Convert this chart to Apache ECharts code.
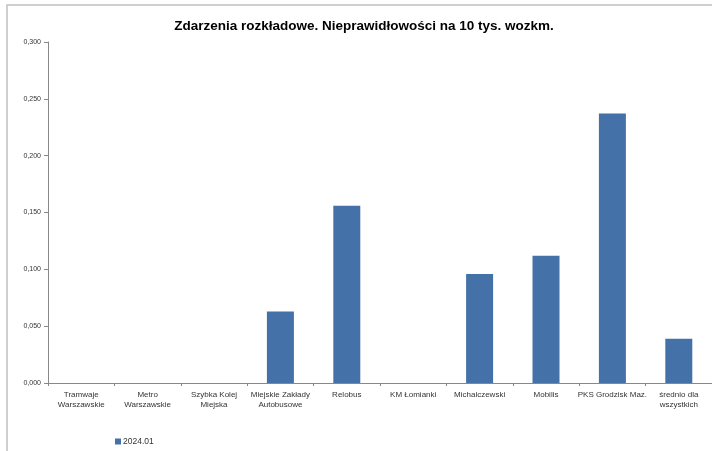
<!DOCTYPE html>
<html>
<head>
<meta charset="utf-8">
<script src="https://cdn.jsdelivr.net/npm/echarts@6/dist/echarts.min.js"></script>
<style>
  html, body { margin: 0; padding: 0; background: #fff; }
  #main { width: 712px; height: 451px; }
</style>
</head>
<body>
<div id="main"></div>
<script>
// dane z wykresu
var categories = [
  'Tramwaje\nWarszawskie',
  'Metro\nWarszawskie',
  'Szybka Kolej\nMiejska',
  'Miejskie Zakłady\nAutobusowe',
  'Relobus',
  'KM Łomianki',
  'Michalczewski',
  'Mobilis',
  'PKS Grodzisk Maz.',
  'średnio dla\nwszystkich'
];
var seriesName = '2024.01';
var values = [0, 0, 0, 0.063, 0.156, 0, 0.096, 0.112, 0.237, 0.039];
var yTicks = [0, 0.05, 0.1, 0.15, 0.2, 0.25, 0.3];

var font = 'Liberation Sans, Arial, sans-serif';

var myChart = echarts.init(document.getElementById('main'));
var option = {
  animation: false,
  title: {
    text: 'Zdarzenia rozkładowe. Nieprawidłowości na 10 tys. wozkm.',
    left: 359,
    textAlign: 'center',
    top: 14,
    textStyle: { fontFamily: font, fontSize: 13.5, fontWeight: 'bold', color: '#000' }
  },
  graphic: [
    {
      type: 'rect',
      shape: { x: 7, y: 5, width: 720, height: 460 },
      style: { fill: 'none', stroke: '#c0c0c0', lineWidth: 1.5 },
      silent: true
    }
  ],
  legend: {
    left: 110,
    top: 432,
    itemWidth: 6,
    itemHeight: 6,
    icon: 'rect',
    textStyle: { fontFamily: font, fontSize: 8.5, color: '#333', padding: [0, 0, 0, -3] },
    data: [seriesName]
  },
  grid: {
    left: 48,
    top: 42,
    width: 668,
    height: 341
  },
  xAxis: {
    type: 'category',
    data: categories,
    axisLine: { lineStyle: { color: '#888', width: 1 } },
    axisTick: { show: true, length: 3, lineStyle: { color: '#888' } },
    axisLabel: {
      interval: 0,
      fontFamily: font,
      fontSize: 8,
      color: '#333',
      lineHeight: 10,
      margin: 7
    }
  },
  yAxis: {
    type: 'value',
    min: yTicks[0],
    max: yTicks[yTicks.length - 1],
    interval: 0.05,
    splitLine: { show: false },
    axisLine: { show: true, lineStyle: { color: '#888', width: 1 } },
    axisTick: { show: true, length: 4, lineStyle: { color: '#888' } },
    axisLabel: {
      fontFamily: font,
      fontSize: 7,
      color: '#333',
      margin: 7,
      formatter: function (v) { return v.toFixed(3).replace('.', ','); }
    }
  },
  series: [
    {
      name: seriesName,
      type: 'bar',
      data: values,
      barWidth: 27,
      itemStyle: { color: '#4472a8' }
    }
  ]
};
myChart.setOption(option);
</script>
</body>
</html>
